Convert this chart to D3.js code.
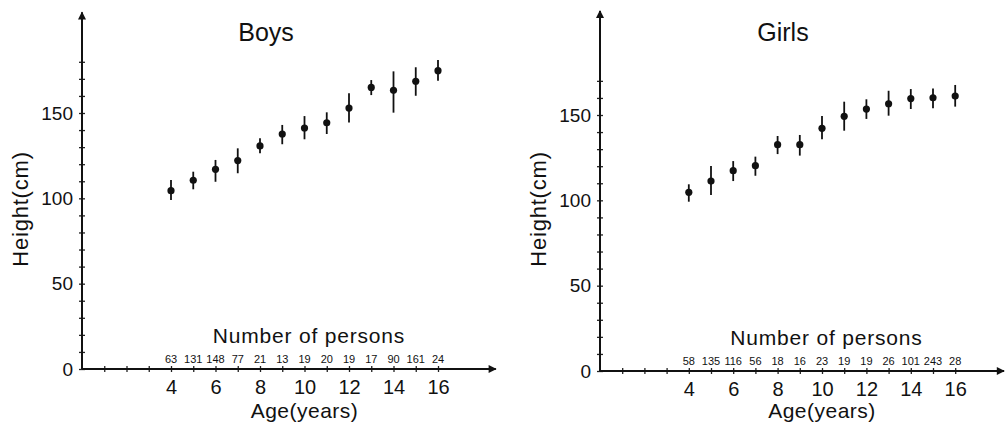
<!DOCTYPE html>
<html>
<head>
<meta charset="utf-8">
<script src="https://cdn.jsdelivr.net/npm/d3@7"></script>
<style>
  body { margin: 0; background: #fff; }
  svg { display: block; }
  .narrow { font-family: "Liberation Sans Narrow", "Liberation Sans", Arial, sans-serif; }
  .plain { font-family: "Liberation Sans", Arial, sans-serif; }
</style>
</head>
<body>
<svg id="chart" width="1005" height="426"></svg>
<script>
// ages shown on each panel
var ages = [4, 5, 6, 7, 8, 9, 10, 11, 12, 13, 14, 15, 16];

// boys: mean height and the ends of the bar (cm), number of persons
var boysMean = [104.5, 110.6, 117.0, 122.1, 130.7, 137.7, 141.2, 144.3, 152.9, 165.0, 163.3, 168.6, 174.8];
var boysLow  = [99.0, 105.3, 109.7, 114.7, 126.4, 131.7, 134.6, 137.7, 144.5, 160.5, 150.2, 160.1, 168.9];
var boysHigh = [110.7, 115.6, 122.5, 129.3, 135.2, 143.0, 148.2, 150.4, 161.5, 169.3, 174.4, 176.8, 181.1];
var boysCount = [63, 131, 148, 77, 21, 13, 19, 20, 19, 17, 90, 161, 24];

// girls
var girlsMean = [104.7, 111.3, 117.4, 120.3, 132.6, 132.6, 142.2, 149.2, 153.5, 156.6, 159.6, 160.1, 161.1];
var girlsLow  = [99.2, 103.1, 111.3, 114.4, 127.1, 126.2, 135.8, 140.8, 147.7, 149.6, 153.5, 153.9, 154.9];
var girlsHigh = [109.4, 120.1, 123.0, 125.6, 137.7, 138.3, 149.4, 157.8, 159.2, 164.2, 165.2, 165.6, 167.6];
var girlsCount = [58, 135, 116, 56, 18, 16, 23, 19, 19, 26, 101, 243, 28];

var ageLabels = [4, 6, 8, 10, 12, 14, 16];
var heightLabels = [0, 50, 100, 150];

var svg = d3.select("#chart");

// arrowhead for axis ends
svg.append("defs").append("marker")
    .attr("id", "arrow").attr("viewBox", "0 0 10 10")
    .attr("refX", 9).attr("refY", 5)
    .attr("markerWidth", 5).attr("markerHeight", 4)
    .attr("orient", "auto")
  .append("path").attr("d", "M0,0 L10,5 L0,10 Z").attr("fill", "#111");

// component: one panel (axes, bars, labels) drawn into sel
function panel( sel, opt ) {
    var x = d3.scaleLinear().domain( [0, 1] ).range( [opt.left, opt.left + opt.perYear] );
    var y = d3.scaleLinear().domain( [0, 150] ).range( [opt.bottom, opt.bottom - 256] );

    // y axis with small crossing ticks every 10 cm
    var yAxis = d3.axisLeft( y ).tickValues( d3.range( 0, opt.yTop + 1, 10 ) )
        .tickSize( 3 ).tickPadding( 6 )
        .tickFormat( d => heightLabels.indexOf( d ) >= 0 ? d : "" );
    var gy = sel.append( "g" ).attr( "transform", "translate(" + opt.left + ",0)" ).call( yAxis );
    gy.select( ".domain" ).remove();
    gy.selectAll( ".tick line" ).attr( "x1", 3 ).attr( "x2", -3 ).attr( "stroke", "#222" ).attr( "stroke-width", 1.3 );
    gy.selectAll( "text" ).attr( "class", "narrow" ).attr( "font-size", 19 ).attr( "fill", "#111" );

    // x axis: ticks at every year, labels on even ages from 4
    var xAxis = d3.axisBottom( x ).tickValues( d3.range( 1, 17 ) )
        .tickSize( 3 ).tickPadding( 8 )
        .tickFormat( d => ageLabels.indexOf( d ) >= 0 ? d : "" );
    var gx = sel.append( "g" ).attr( "transform", "translate(0," + opt.bottom + ")" ).call( xAxis );
    gx.select( ".domain" ).remove();
    gx.selectAll( ".tick line" ).attr( "y1", -3 ).attr( "y2", 3 ).attr( "stroke", "#222" ).attr( "stroke-width", 1.3 );
    gx.selectAll( "text" ).attr( "class", "narrow" ).attr( "font-size", 20 ).attr( "fill", "#111" );

    // axis lines with arrows
    sel.append( "line" )
        .attr( "x1", opt.left ).attr( "y1", opt.bottom )
        .attr( "x2", opt.left ).attr( "y2", y( opt.yEnd ) )
        .attr( "stroke", "#111" ).attr( "stroke-width", 2 ).attr( "marker-end", "url(#arrow)" );
    sel.append( "line" )
        .attr( "x1", opt.left ).attr( "y1", opt.bottom )
        .attr( "x2", x( opt.xEnd ) ).attr( "y2", opt.bottom )
        .attr( "stroke", "#111" ).attr( "stroke-width", 2 ).attr( "marker-end", "url(#arrow)" );

    // error bars and dots
    var pts = sel.selectAll( "g.pt" ).data( ages ).enter().append( "g" ).classed( "pt", true );
    pts.append( "line" )
        .attr( "x1", d => x( d ) ).attr( "x2", d => x( d ) )
        .attr( "y1", (d,i) => y( opt.low[i] ) ).attr( "y2", (d,i) => y( opt.high[i] ) )
        .attr( "stroke", "#111" ).attr( "stroke-width", 1.8 );
    pts.append( "circle" )
        .attr( "cx", d => x( d ) ).attr( "cy", (d,i) => y( opt.mean[i] ) )
        .attr( "r", 3.6 ).attr( "fill", "#111" );

    // number of persons under each age
    pts.append( "text" ).attr( "class", "narrow" )
        .attr( "x", d => x( d ) ).attr( "y", opt.bottom - 6 )
        .attr( "text-anchor", "middle" ).attr( "font-size", 11 ).attr( "fill", "#111" )
        .text( (d,i) => opt.count[i] );

    sel.append( "text" ).attr( "class", "plain" )
        .attr( "x", opt.left + opt.perYear * 10.2 ).attr( "y", opt.bottom - 26 )
        .attr( "text-anchor", "middle" ).attr( "font-size", 21 ).attr( "letter-spacing", 0.8 ).attr( "fill", "#111" )
        .text( "Number of persons" );

    sel.append( "text" ).attr( "class", "plain" )
        .attr( "x", opt.left + opt.perYear * 10 ).attr( "y", 418 )
        .attr( "text-anchor", "middle" ).attr( "font-size", 21 ).attr( "letter-spacing", 0.5 ).attr( "fill", "#111" )
        .text( "Age(years)" );

    sel.append( "text" ).attr( "class", "plain" )
        .attr( "transform", "translate(" + ( opt.left - 54 ) + ",209) rotate(-90)" )
        .attr( "text-anchor", "middle" ).attr( "font-size", 22 ).attr( "letter-spacing", 0.8 ).attr( "fill", "#111" )
        .text( "Height(cm)" );

    sel.append( "text" ).attr( "class", "plain" )
        .attr( "x", opt.titleX ).attr( "y", 41 )
        .attr( "text-anchor", "middle" ).attr( "font-size", 25 ).attr( "fill", "#111" )
        .text( opt.title );
}

svg.append( "g" ).call( panel, {
    title: "Boys", titleX: 266, left: 82, perYear: 22.25, bottom: 369, yTop: 180, yEnd: 209, xEnd: 18.6,
    mean: boysMean, low: boysLow, high: boysHigh, count: boysCount
} );

svg.append( "g" ).call( panel, {
    title: "Girls", titleX: 783, left: 600, perYear: 22.2, bottom: 371, yTop: 170, yEnd: 211, xEnd: 18.2,
    mean: girlsMean, low: girlsLow, high: girlsHigh, count: girlsCount
} );
</script>
</body>
</html>
